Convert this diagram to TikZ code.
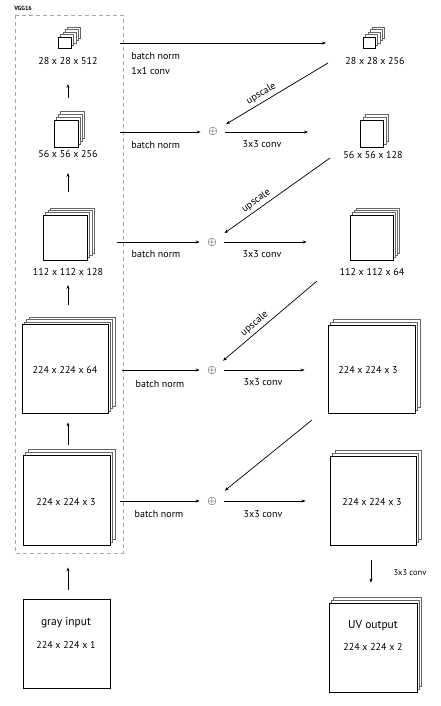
\documentclass[tikz,border=0pt]{standalone}
\usepackage{fontspec}
\setmainfont{PT Sans}
\usepackage{amssymb}
\usepackage{tikz}
\usetikzlibrary{
  calc,
  arrows.meta
}

% one feature map: front square plus layers behind it
\newcommand{\featmap}[7]{%
  \foreach \i in {#5,...,1}
    \node[backlayer, minimum width=#3, minimum height=#4] at ($(#2)+(\i*#6,-\i*#7)$) {};
  \node[frontlayer, minimum width=#3, minimum height=#4] (#1) at (#2) {};
}

\begin{document}
\begin{tikzpicture}[x=1pt,y=-1pt,
  backlayer/.style={draw=black!60, fill=white, line width=0.7pt, inner sep=0pt},
  frontlayer/.style={draw=black, fill=white, line width=0.8pt, inner sep=0pt},
  lbl/.style={font=\fontsize{10}{12}\selectfont, inner sep=1pt},
  plus/.style={circle, minimum size=24pt, inner sep=0pt, font=\large},
  ->/.style={-{Stealth[length=4pt,width=3pt]}},
  every path/.style={line width=0.7pt}
]
\useasboundingbox (0,0) rectangle (441,706);

% VGG16 encoder
\node[font=\fontsize{6}{7}\selectfont\bfseries, anchor=west, inner sep=0pt] (vgg) at (14,8) {VGG16};
\draw[black!35, dashed, dash pattern=on 4pt off 3pt] (15,15) rectangle (123,553);

\featmap{m1}{65,42.5}{13pt}{11pt}{4}{2.2}{2.5}
\featmap{m2}{66,134}{24pt}{27pt}{3}{2.2}{3}
\featmap{m3}{65,237.5}{44pt}{45pt}{3}{2.6}{2.3}
\featmap{m4}{65,368.5}{86pt}{89pt}{3}{2.3}{2.1}
\featmap{m5}{66.5,500}{87pt}{90pt}{2}{2.6}{2.6}
\node[frontlayer, minimum width=87pt, minimum height=89pt] (gray) at (66.5,643.5) {};

\node[lbl] (t1) at (68,61) {28 x 28 x 512};
\node[lbl] (t2) at (68,154) {56 x 56 x 256};
\node[lbl] (t3) at (68,272) {112 x 112 x 128};
\node[lbl] (t4) at (65,370) {224 x 224 x 64};
\node[lbl] (t5) at (66,502) {224 x 224 x 3};
\node[lbl, font=\fontsize{11.5}{13}\selectfont] (g1) at (66,623) {gray input};
\node[lbl] (g2) at (66,645) {224 x 224 x 1};

\draw[->, shorten <=22pt, shorten >=18pt] (m2.north -| t1) -- (t1.south);
\draw[->, shorten <=23pt, shorten >=14pt] (m3.north -| t2) -- (t2.south);
\draw[->, shorten <=19pt, shorten >=8pt] (m4.north -| t3) -- (t3.south);
\draw[->, shorten <=10pt, shorten >=9pt] (m5.north -| t3) -- (m4.south -| t3);
\draw[->, shorten <=9pt, shorten >=22pt] (gray.north -| t3) -- (m5.south -| t3);

% decoder
\featmap{r1}{369.5,42.5}{12pt}{11pt}{4}{2.3}{2.5}
\featmap{r2}{372,133.5}{23pt}{27pt}{2}{2.5}{3}
\featmap{r3}{371.5,237.5}{43pt}{45pt}{3}{2}{2.3}
\featmap{r4}{371.5,369}{87pt}{88pt}{2}{2.6}{2.6}
\featmap{r5}{373,500.5}{86pt}{89pt}{2}{2.6}{2.6}
\featmap{uv}{373,647.5}{88pt}{89pt}{2}{2.2}{2.8}

\node[lbl] (q1) at (375,61) {28 x 28 x 256};
\node[lbl] (q2) at (373,155) {56 x 56 x 128};
\node[lbl] (q3) at (372,272) {112 x 112 x 64};
\node[lbl] (q4) at (368,370) {224 x 224 x 3};
\node[lbl] (q5) at (372,502) {224 x 224 x 3};
\node[lbl, font=\fontsize{11.5}{13}\selectfont] (o1) at (373,626) {UV output};
\node[lbl] (o2) at (373,647) {224 x 224 x 2};

\draw[->, shorten <=15pt, shorten >=20pt] (r5.south -| 371,0) -- (uv.north -| 371,0);
\node[lbl, font=\fontsize{8.5}{10}\selectfont] (c6) at (410,573) {3x3 conv};

% skip connections
\node[plus] (p2) at (213,132) {$\oplus$};
\node[plus] (p3) at (212,242) {$\oplus$};
\node[plus] (p4) at (212,370) {$\oplus$};
\node[plus] (p5) at (212,501) {$\oplus$};

\coordinate (s1) at (120,43);
\coordinate (e1) at (326,43);
\coordinate (s2) at (120,132);
\coordinate (s3) at (117,242);
\coordinate (s4) at (122,370);
\coordinate (s5) at (120,501);

\draw[->] (s1) -- (e1);
\draw[->] (s2) -- (p2);
\draw[->] (s3) -- (p3);
\draw[->] (s4) -- (p4);
\draw[->] (s5) -- (p5);
\draw[->, shorten >=52pt] (p2) -- (p2 -| r2.west);
\draw[->, shorten >=43pt] (p3) -- (p3 -| r3.west);
\draw[->, shorten >=23pt] (p4) -- (p4 -| r4.west);
\draw[->, shorten >=24pt] (p5) -- (p5 -| r5.west);

\node[lbl, anchor=west] (b1) at (130,56) {batch norm};
\node[lbl, anchor=west] (k1) at (130,71) {1x1 conv};
\node[lbl, anchor=west] (b2) at (130,145) {batch norm};
\node[lbl] (k2) at (262,144) {3x3 conv};
\node[lbl] (b3) at (156,254) {batch norm};
\node[lbl] (k3) at (262,254) {3x3 conv};
\node[lbl] (b4) at (160,384) {batch norm};
\node[lbl] (k4) at (263,382) {3x3 conv};
\node[lbl] (b5) at (159,514) {batch norm};
\node[lbl] (k5) at (263,514) {3x3 conv};

% upscaling
\coordinate (u1) at (328,63);
\coordinate (u2) at (330,158);
\coordinate (u3) at (317,281);
\coordinate (u4) at (312,420);
\draw[->, shorten >=3pt] (u1) -- node[lbl, sloped, above=2pt, pos=0.6] {upscale} (p2);
\draw[->, shorten >=3pt] (u2) -- node[lbl, sloped, above=2pt, pos=0.64] {upscale} (p3);
\draw[->, shorten >=2pt] (u3) -- node[lbl, sloped, above=2pt, pos=0.6] {upscale} (p4);
\draw[->, shorten >=4pt] (u4) -- (p5);
\end{tikzpicture}
\end{document}
